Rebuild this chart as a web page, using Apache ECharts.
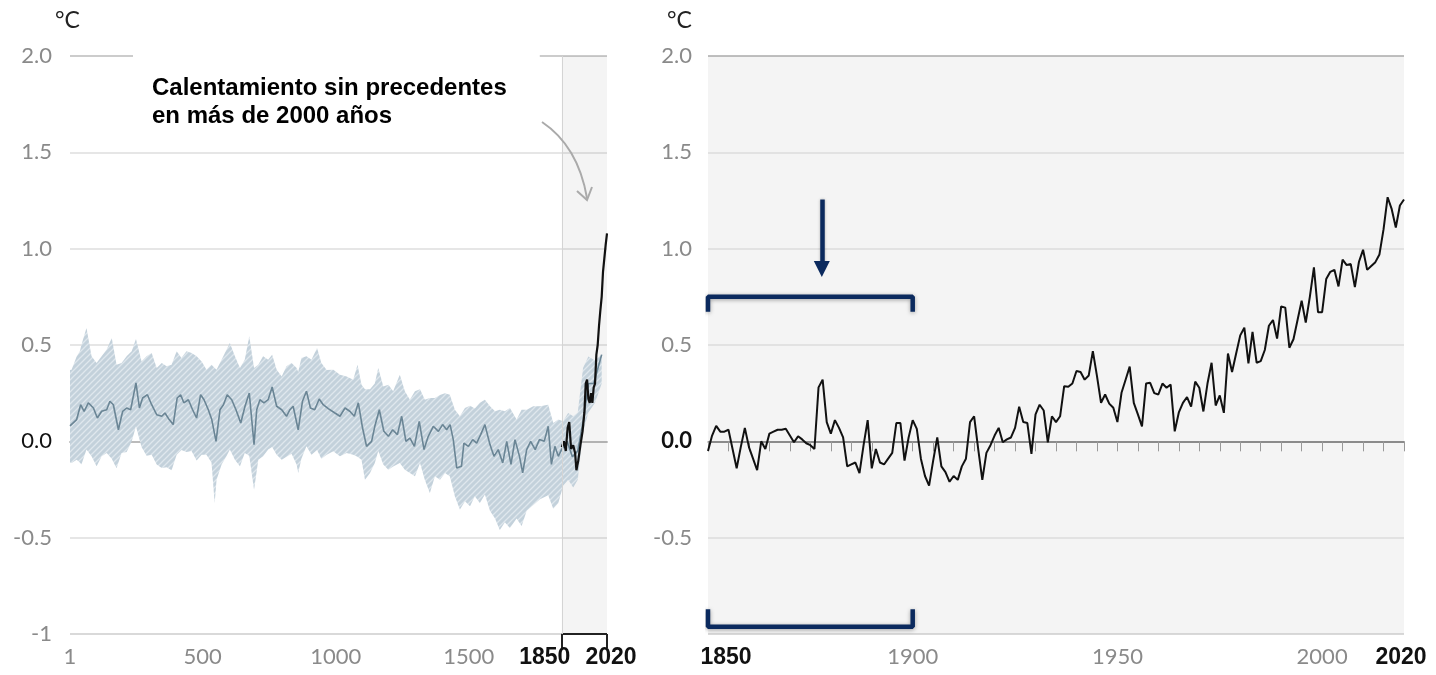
<!DOCTYPE html>
<html>
<head>
<meta charset="utf-8">
<title>Temperatura global</title>
<script src="https://cdn.jsdelivr.net/npm/echarts@6.0.0/dist/echarts.min.js"></script>
<style>
  html, body { margin: 0; padding: 0; background: #fff; }
  #main { width: 1436px; height: 675px; }
</style>
</head>
<body>
<div id="main"></div>
<script>
// ---- datos ----
// izquierda: reconstrucción 1-2000 (línea central)
var reconYears = [1, 7, 26, 41, 54, 70, 89, 104, 120, 139, 151, 164, 183, 199, 214, 229, 249, 262, 274, 292, 308, 327, 346, 358, 374, 389, 404, 417, 429, 446, 462, 477, 492, 505, 521, 534, 550, 565, 578, 592, 609, 625, 643, 659, 675, 693, 703, 715, 730, 746, 761, 778, 797, 815, 828, 840, 859, 875, 890, 905, 921, 938, 953, 972, 997, 1016, 1035, 1053, 1070, 1085, 1101, 1116, 1135, 1147, 1164, 1181, 1198, 1214, 1232, 1248, 1264, 1279, 1296, 1314, 1332, 1348, 1367, 1386, 1402, 1417, 1430, 1442, 1455, 1473, 1482, 1499, 1515, 1530, 1545, 1561, 1580, 1595, 1611, 1628, 1643, 1659, 1674, 1691, 1703, 1718, 1733, 1750, 1766, 1784, 1799, 1811, 1824, 1837, 1849, 1870, 1890, 1910, 1930, 1950, 1970, 1990, 2000];
var reconMean = [0.08, 0.087, 0.113, 0.19, 0.156, 0.2, 0.173, 0.121, 0.156, 0.164, 0.208, 0.19, 0.06, 0.156, 0.173, 0.164, 0.303, 0.173, 0.225, 0.242, 0.19, 0.138, 0.13, 0.147, 0.113, 0.087, 0.225, 0.242, 0.2, 0.216, 0.164, 0.121, 0.242, 0.216, 0.164, 0.113, 0.0, 0.164, 0.19, 0.242, 0.216, 0.164, 0.095, 0.182, 0.251, -0.017, 0.164, 0.216, 0.2, 0.216, 0.282, 0.182, 0.164, 0.13, 0.164, 0.182, 0.06, 0.208, 0.26, 0.173, 0.164, 0.22, 0.19, 0.17, 0.147, 0.13, 0.173, 0.156, 0.13, 0.2, 0.069, -0.026, 0.0, 0.078, 0.164, 0.052, 0.026, 0.06, 0.035, 0.13, 0.0, 0.017, -0.026, 0.104, -0.043, 0.026, 0.078, 0.052, 0.087, 0.06, 0.087, 0.009, -0.138, -0.129, -0.009, -0.026, 0.009, -0.009, 0.035, 0.087, -0.017, -0.078, -0.043, -0.112, 0.0, -0.12, 0.009, -0.078, -0.164, -0.043, 0.0, -0.043, 0.009, 0.0, 0.078, -0.12, -0.026, -0.078, -0.043, 0.0, -0.08, -0.05, 0.1, 0.3, 0.3, 0.4, 0.45];

// izquierda: banda de incertidumbre
var bandYears = [1, 7, 26, 38, 44, 63, 82, 101, 120, 139, 158, 176, 195, 214, 233, 249, 270, 289, 308, 327, 346, 364, 383, 402, 420, 439, 458, 477, 496, 514, 533, 545, 552, 571, 590, 602, 621, 640, 658, 675, 693, 709, 727, 746, 761, 778, 797, 815, 834, 853, 859, 871, 890, 909, 930, 946, 966, 991, 1016, 1041, 1066, 1082, 1097, 1110, 1129, 1147, 1160, 1179, 1198, 1216, 1241, 1260, 1279, 1298, 1317, 1335, 1354, 1373, 1392, 1411, 1429, 1448, 1467, 1486, 1505, 1523, 1542, 1561, 1580, 1599, 1617, 1636, 1655, 1680, 1699, 1718, 1743, 1768, 1799, 1818, 1837, 1855, 1874, 1893, 1910, 1930, 1950, 1975, 2000];
var bandHi = [0.37, 0.372, 0.44, 0.467, 0.5, 0.588, 0.441, 0.407, 0.441, 0.476, 0.536, 0.398, 0.407, 0.441, 0.467, 0.531, 0.415, 0.441, 0.458, 0.38, 0.407, 0.39, 0.398, 0.467, 0.433, 0.467, 0.458, 0.441, 0.415, 0.372, 0.398, 0.38, 0.372, 0.424, 0.476, 0.51, 0.441, 0.38, 0.424, 0.545, 0.38, 0.398, 0.441, 0.424, 0.45, 0.372, 0.337, 0.39, 0.407, 0.38, 0.36, 0.433, 0.441, 0.424, 0.485, 0.407, 0.37, 0.372, 0.346, 0.337, 0.32, 0.398, 0.294, 0.27, 0.27, 0.3, 0.38, 0.285, 0.294, 0.26, 0.346, 0.26, 0.216, 0.26, 0.27, 0.216, 0.225, 0.225, 0.24, 0.25, 0.242, 0.164, 0.13, 0.173, 0.185, 0.17, 0.2, 0.216, 0.182, 0.156, 0.164, 0.156, 0.173, 0.113, 0.164, 0.164, 0.182, 0.182, 0.19, 0.095, 0.113, 0.104, 0.147, 0.13, 0.15, 0.38, 0.44, 0.42, 0.45];
var bandLo = [-0.11, -0.112, -0.095, -0.11, -0.12, -0.043, -0.078, -0.129, -0.078, -0.061, -0.09, -0.14, -0.06, -0.055, 0.0, 0.078, -0.03, -0.075, -0.07, -0.12, -0.138, -0.135, -0.15, -0.07, -0.045, -0.055, -0.05, -0.1, -0.07, -0.07, -0.11, -0.32, -0.2, -0.12, -0.075, -0.043, -0.095, -0.129, -0.061, -0.075, -0.251, -0.095, -0.078, -0.043, -0.03, -0.07, -0.095, -0.08, -0.065, -0.12, -0.164, -0.09, -0.026, -0.07, -0.045, -0.09, -0.07, -0.052, -0.078, -0.061, -0.069, -0.08, -0.095, -0.2, -0.164, -0.112, -0.05, -0.12, -0.147, -0.13, -0.112, -0.147, -0.164, -0.181, -0.112, -0.2, -0.268, -0.181, -0.2, -0.164, -0.181, -0.285, -0.354, -0.311, -0.337, -0.285, -0.32, -0.276, -0.36, -0.4, -0.46, -0.42, -0.45, -0.4, -0.44, -0.36, -0.33, -0.3, -0.28, -0.35, -0.32, -0.23, -0.2, -0.24, -0.2, 0.05, 0.15, 0.2, 0.3];

// izquierda: observaciones 1850-2020 (línea negra)
var obsLeftYears = [1850, 1858, 1865, 1872, 1878, 1885, 1893, 1900, 1905, 1912, 1920, 1928, 1935, 1940, 1945, 1950, 1955, 1960, 1965, 1970, 1975, 1980, 1985, 1990, 1995, 2000, 2005, 2010, 2015, 2020];
var obsLeftVals = [-0.03, 0.0, -0.05, 0.07, 0.1, -0.04, -0.02, -0.06, -0.15, -0.1, -0.02, 0.05, 0.15, 0.3, 0.32, 0.22, 0.2, 0.25, 0.2, 0.28, 0.3, 0.45, 0.5, 0.6, 0.68, 0.75, 0.88, 0.95, 1.02, 1.08];

// derecha: anomalía anual 1850-2020
var annualStart = 1850;
var annualVals = [
  -0.05, 0.03, 0.08, 0.05, 0.05, 0.06, -0.04, -0.14, -0.03, 0.07,
  -0.03, -0.09, -0.15, 0.0, -0.04, 0.04, 0.05, 0.06, 0.06, 0.065,
  0.03, -0.005, 0.026, 0.01, -0.01, -0.02, -0.04, 0.28, 0.32, 0.1,
  0.04, 0.11, 0.07, 0.02, -0.13, -0.12, -0.11, -0.165, -0.02, 0.11,
  -0.14, -0.04, -0.11, -0.12, -0.09, -0.06, 0.095, 0.095, -0.1, 0.02,
  0.11, 0.065, -0.09, -0.18, -0.23, -0.1, 0.02, -0.13, -0.16, -0.21,
  -0.18, -0.2, -0.13, -0.09, 0.1, 0.13, -0.04, -0.2, -0.06, -0.02,
  0.03, 0.07, -0.005, 0.01, 0.02, 0.07, 0.18, 0.1, 0.095, -0.065,
  0.14, 0.19, 0.16, -0.005, 0.13, 0.1, 0.13, 0.286, 0.283, 0.3,
  0.365, 0.36, 0.32, 0.342, 0.468, 0.34, 0.2, 0.243, 0.196, 0.174,
  0.1, 0.252, 0.32, 0.388, 0.2, 0.14, 0.078, 0.3, 0.304, 0.25,
  0.243, 0.3, 0.278, 0.295, 0.052, 0.15, 0.2, 0.23, 0.18, 0.31,
  0.278, 0.155, 0.3, 0.408, 0.186, 0.238, 0.148, 0.456, 0.36, 0.456,
  0.55, 0.59, 0.405, 0.568, 0.408, 0.416, 0.474, 0.6, 0.63, 0.533,
  0.7, 0.694, 0.486, 0.53, 0.63, 0.73, 0.616, 0.75, 0.903, 0.67,
  0.67, 0.842, 0.88, 0.89, 0.804, 0.943, 0.915, 0.92, 0.8, 0.932,
  0.994, 0.89, 0.91, 0.93, 0.97, 1.1, 1.267, 1.205, 1.11, 1.224,
  1.255
];

// ejes
var yTicks = [-1, -0.5, 0, 0.5, 1, 1.5, 2];
var yTickLabels = ['-1', '-0.5', '0.0', '0.5', '1.0', '1.5', '2.0'];
var leftTickYears = [1, 500, 1000, 1500];
var leftBoldYears = [1850, 2020];
var rightLabelYears = [1850, 1900, 1950, 2000, 2020];
var refPeriod = [1850, 1900];

var chart = echarts.init(document.getElementById('main'));

function pairs(xs, ys) {
  return xs.map(function (x, i) { return [x, ys[i]]; });
}
var annualData = annualVals.map(function (v, i) { return [annualStart + i, v]; });

// rayado de la banda
var hatch = document.createElement('canvas');
hatch.width = 6; hatch.height = 6;
var ctx = hatch.getContext('2d');
ctx.fillStyle = '#c3d1db';
ctx.fillRect(0, 0, 6, 6);
ctx.strokeStyle = '#dfe7ed';
ctx.lineWidth = 1.3;
ctx.beginPath();
ctx.moveTo(-1, 7); ctx.lineTo(7, -1);
ctx.moveTo(-4, 4); ctx.lineTo(4, -4);
ctx.moveTo(2, 10); ctx.lineTo(10, 2);
ctx.stroke();

var boldFont = "'Liberation Sans', Arial, sans-serif";
var tickFont = { fontFamily: 'Lato', fontSize: 22, color: '#8a8a8a' };

function yLabel(showMin) {
  return function (v) {
    var i = yTicks.indexOf(v);
    if (i < 0) return '';
    if (v === -1 && !showMin) return '';
    if (v === 0) return '{z|' + yTickLabels[i] + '}';
    return yTickLabels[i];
  };
}

var option = {
  backgroundColor: '#fff',
  animation: false,
  grid: [
    { left: 70, top: 56, width: 537, height: 578 },
    { left: 708, top: 56, width: 696, height: 578, show: true, backgroundColor: '#f4f4f4', borderWidth: 0 }
  ],
  xAxis: [
    {
      type: 'value', gridIndex: 0, min: 1, max: 2020,
      axisLine: { lineStyle: { color: '#bbb', width: 2 } },
      axisTick: { customValues: leftTickYears.slice(1), length: 8, lineStyle: { color: '#bbb', width: 1.5 } },
      axisLabel: Object.assign({
        customValues: leftTickYears, margin: 12,
        formatter: function (v) { return String(v); }
      }, tickFont),
      splitLine: { show: false }
    },
    {
      type: 'value', gridIndex: 0, min: 1, max: 2020, position: 'bottom',
      axisLine: { show: false },
      axisTick: { customValues: leftBoldYears, length: 14, lineStyle: { color: '#222', width: 2 } },
      axisLabel: {
        customValues: leftBoldYears, margin: 12,
        formatter: function (v) { return v === 1850 ? '{l|1850}' : '{r|2020}'; },
        rich: {
          l: { fontFamily: boldFont, fontWeight: 'bold', fontSize: 23, color: '#111', padding: [0, 34, 0, 0] },
          r: { fontFamily: boldFont, fontWeight: 'bold', fontSize: 23, color: '#111', padding: [0, 0, 0, 8] }
        }
      },
      splitLine: { show: false }
    },
    {
      type: 'value', gridIndex: 1, min: 1850, max: 2020, interval: 5,
      axisLine: { lineStyle: { color: '#999', width: 1.5 } },
      axisTick: { length: 10, lineStyle: { color: '#999', width: 1 } },
      axisLabel: {
        margin: 12, showMinLabel: true, showMaxLabel: true,
        fontFamily: 'Lato', fontSize: 22, color: '#8a8a8a',
        formatter: function (v) {
          if (rightLabelYears.indexOf(v) < 0) return '';
          if (v === 1850) return '{l|1850}';
          if (v === 2020) return '{r|2020}';
          return String(v);
        },
        rich: {
          l: { fontFamily: boldFont, fontWeight: 'bold', fontSize: 23, color: '#111', padding: [0, 0, 0, 36] },
          r: { fontFamily: boldFont, fontWeight: 'bold', fontSize: 23, color: '#111', padding: [0, 6, 0, 0] }
        }
      },
      splitLine: { show: false }
    }
  ],
  yAxis: [
    {
      type: 'value', gridIndex: 0, min: -1, max: 2, interval: 0.5,
      axisLine: { show: false }, axisTick: { show: false },
      axisLabel: Object.assign({ margin: 18, formatter: yLabel(true), rich: { z: { fontFamily: 'Lato', fontSize: 22, color: '#111' } } }, tickFont),
      splitLine: { lineStyle: { color: ['#ccc', '#dedede', '#9a9a9a', '#dedede', '#dedede', '#dedede', '#bbb'], width: 1.5 } }
    },
    {
      type: 'value', gridIndex: 1, min: -1, max: 2, interval: 0.5,
      axisLine: { show: false }, axisTick: { show: false },
      axisLabel: Object.assign({ margin: 16, formatter: yLabel(false), rich: { z: { fontFamily: 'Lato', fontSize: 22, fontWeight: 'bold', color: '#111' } } }, tickFont),
      splitLine: { lineStyle: { color: ['#ccc', '#dcdcdc', '#333', '#dcdcdc', '#dcdcdc', '#dcdcdc', '#aaa'], width: 1.5 } }
    }
  ],
  series: [
    {
      // banda de incertidumbre como polígono en coordenadas de datos
      name: 'banda', type: 'custom', xAxisIndex: 0, yAxisIndex: 0, silent: true,
      data: bandYears.map(function (y, i) { return [y, bandLo[i], bandHi[i]]; }),
      encode: { x: 0, y: [1, 2] },
      renderItem: function (params, api) {
        if (params.dataIndexInside !== 0) return null;
        var top = [], bottom = [];
        for (var i = 0; i < bandYears.length; i++) {
          top.push(api.coord([bandYears[i], bandHi[i]]));
          bottom.unshift(api.coord([bandYears[i], bandLo[i]]));
        }
        return {
          type: 'polygon',
          shape: { points: top.concat(bottom) },
          style: { fill: { image: hatch, repeat: 'repeat' }, stroke: null }
        };
      },
      z: 2
    },
    {
      name: 'reconstrucción', type: 'line', xAxisIndex: 0, yAxisIndex: 0,
      symbol: 'none', lineStyle: { color: '#6a8595', width: 1.6 },
      data: pairs(reconYears, reconMean), z: 3,
      markArea: {
        silent: true,
        itemStyle: { color: 'rgba(0,0,0,0.045)' },
        data: [[{ xAxis: 1850 }, { xAxis: 2020 }]]
      },
      markLine: {
        silent: true, symbol: 'none', label: { show: false },
        lineStyle: { color: '#d4d4d4', width: 1, type: 'solid' },
        data: [{ xAxis: 1850 }]
      }
    },
    {
      name: 'observado', type: 'line', xAxisIndex: 0, yAxisIndex: 0,
      symbol: 'none', lineStyle: { color: '#111', width: 2.2 },
      data: pairs(obsLeftYears, obsLeftVals), z: 4
    },
    {
      name: 'corchete', type: 'line', xAxisIndex: 0, yAxisIndex: 0,
      symbol: 'none', clip: false, lineStyle: { color: '#222', width: 2 },
      data: [[1850, -1], [2020, -1]]
    },
    {
      name: 'anual', type: 'line', xAxisIndex: 2, yAxisIndex: 1,
      symbol: 'none', lineStyle: { color: '#111', width: 2 },
      data: annualData, z: 5
    },
    {
      name: 'ref-sup', type: 'line', xAxisIndex: 2, yAxisIndex: 1,
      symbol: 'none', clip: false,
      lineStyle: { color: '#0b2a5e', width: 4.5, shadowColor: 'rgba(0,0,0,0.35)', shadowBlur: 4, shadowOffsetY: 1 },
      data: [[refPeriod[0], 0.672], [refPeriod[0], 0.751], [refPeriod[1], 0.751], [refPeriod[1], 0.672]],
      markLine: {
        silent: true, symbol: ['none', 'triangle'], symbolSize: [16, 16], label: { show: false },
        lineStyle: { color: '#0b2a5e', width: 4.5, type: 'solid', shadowColor: 'rgba(0,0,0,0.3)', shadowBlur: 3 },
        data: [[{ coord: [1877.8, 1.255] }, { coord: [1877.8, 0.895] }]]
      }
    },
    {
      name: 'ref-inf', type: 'line', xAxisIndex: 2, yAxisIndex: 1,
      symbol: 'none', clip: false,
      lineStyle: { color: '#0b2a5e', width: 4.5, shadowColor: 'rgba(0,0,0,0.35)', shadowBlur: 4, shadowOffsetY: 1 },
      data: [[refPeriod[0], -0.872], [refPeriod[0], -0.962], [refPeriod[1], -0.962], [refPeriod[1], -0.872]]
    }
  ],
  graphic: [
    {
      type: 'text', left: 133, top: 48, z: 10,
      style: {
        text: 'Calentamiento sin precedentes\nen más de 2000 años',
        font: 'bold 24px "Liberation Sans", Arial, sans-serif',
        fill: '#000', lineHeight: 28,
        backgroundColor: '#fff', padding: [26, 33, 6, 19]
      }
    },
    {
      type: 'bezierCurve', z: 10,
      shape: { x1: 542, y1: 122, x2: 587, y2: 198, cpx1: 578, cpy1: 146 },
      style: { stroke: '#aaa', lineWidth: 2, fill: null }
    },
    {
      type: 'polyline', z: 10,
      shape: { points: [[577, 191], [587, 200], [592, 187]] },
      style: { stroke: '#aaa', lineWidth: 2, fill: null }
    },
    { type: 'text', left: 55, top: 9, style: { text: '°C', font: '23px Lato', fill: '#222' } },
    { type: 'text', left: 667, top: 9, style: { text: '°C', font: '23px Lato', fill: '#222' } }
  ]
};

chart.setOption(option);
</script>
</body>
</html>
